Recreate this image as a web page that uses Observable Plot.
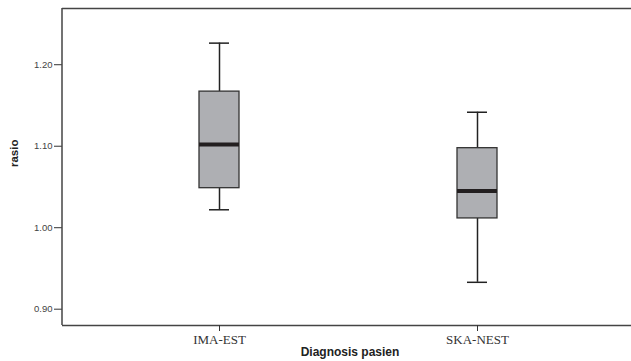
<!DOCTYPE html>
<html><head><meta charset="utf-8">
<script src="https://cdn.jsdelivr.net/npm/d3@7"></script>
<script src="https://cdn.jsdelivr.net/npm/@observablehq/plot@0.6"></script>
<style>html,body{margin:0;padding:0;background:#fff;overflow:hidden}</style>
</head><body><div id="chart"></div>
<script>
const categories = ["IMA-EST", "SKA-NEST"];
const whiskerLow = [1.022, 0.933];
const q1 = [1.0485, 1.0114];
const median = [1.102, 1.045];
const q3 = [1.167, 1.0976];
const whiskerHigh = [1.2265, 1.1417];
const yTicks = [0.90, 1.00, 1.10, 1.20];
const yDomain = [0.880, 1.269];

const data = categories.map((c, i) => ({
  cat: c, lo: whiskerLow[i], q1: q1[i], med: median[i], q3: q3[i], hi: whiskerHigh[i]
}));

const chart = Plot.plot({
  width: 631,
  height: 361,
  marginLeft: 62,
  marginRight: -6,
  marginTop: 8,
  marginBottom: 36,
  style: {background: "#fff", overflow: "hidden"},
  x: {type: "band", domain: categories, range: [199.3, 497.3], paddingInner: 0.845, paddingOuter: 0, align: 0.5},
  y: {domain: yDomain},
  marks: [
    Plot.ruleY(yDomain, {stroke: "#444", strokeWidth: 1.5}),
    Plot.ruleX(data, {x: "cat", y1: "lo", y2: "q1", stroke: "#222", strokeWidth: 1.5}),
    Plot.ruleX(data, {x: "cat", y1: "q3", y2: "hi", stroke: "#222", strokeWidth: 1.5}),
    Plot.tickY(data, {x: "cat", y: "lo", stroke: "#222", strokeWidth: 1.5, insetLeft: 10, insetRight: 10}),
    Plot.tickY(data, {x: "cat", y: "hi", stroke: "#222", strokeWidth: 1.5, insetLeft: 10, insetRight: 10}),
    Plot.barY(data, {x: "cat", y1: "q1", y2: "q3", fill: "#aeafb3", stroke: "#333", strokeWidth: 1.3}),
    Plot.tickY(data, {x: "cat", y: "med", stroke: "#231f20", strokeWidth: 4}),
    Plot.axisY({ticks: yTicks, tickFormat: d3.format(".2f"), tickSize: 8, tickPadding: 2, fontSize: 9.5, fontFamily: "Liberation Sans, Arial, sans-serif", fill: "#444", stroke: "#333", label: null}),
    Plot.axisX({tickSize: 6, tickPadding: 3, fontSize: 13, fontFamily: "Liberation Serif, Times New Roman, serif", fill: "#333", stroke: "#333", label: null}),
    Plot.text(["Diagnosis pasien"], {x: null, frameAnchor: "bottom", dy: 30, dx: 0, fontSize: 12, fontWeight: "bold", fontFamily: "Liberation Sans, Arial, sans-serif", fill: "#222"}),
    Plot.text(["rasio"], {frameAnchor: "left", dx: -48, rotate: -90, fontSize: 11.5, fontWeight: "bold", fontFamily: "Liberation Sans, Arial, sans-serif", fill: "#222"})
  ]
});
// left frame line along the plot's left edge, spanning the y scale
const ys = chart.scale("y");
d3.select(chart).append("line")
  .attr("x1", 62).attr("x2", 62)
  .attr("y1", ys.apply(yDomain[0])).attr("y2", ys.apply(yDomain[1]))
  .attr("stroke", "#444").attr("stroke-width", 1.5);
document.getElementById("chart").appendChild(chart);
</script>
</body></html>
